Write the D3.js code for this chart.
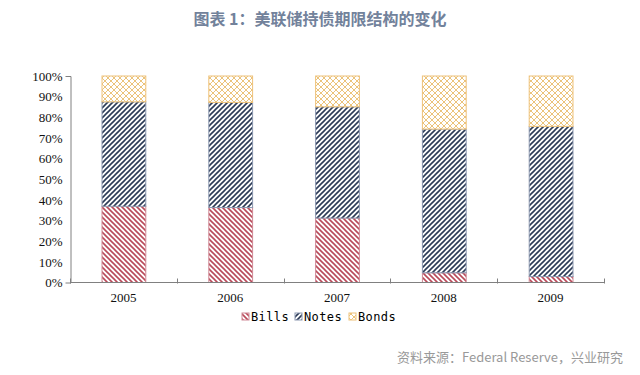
<!DOCTYPE html>
<html>
<head>
<meta charset="utf-8">
<script src="https://cdn.jsdelivr.net/npm/d3@7/dist/d3.min.js"></script>
<style>
  body { margin: 0; background: #fff; }
  svg { display: block; }
</style>
</head>
<body>
<div id="chart"></div>
<script>
const years = ["2005", "2006", "2007", "2008", "2009"];
const bills = [36.9, 36.3, 31.2, 4.7, 2.9];
const notes = [50.6, 50.9, 53.9, 69.6, 72.7];
const bonds = [12.5, 12.8, 14.9, 25.7, 24.4];
const seriesNames = ["Bills", "Notes", "Bonds"];
const yTicks = [0, 10, 20, 30, 40, 50, 60, 70, 80, 90, 100];

const width = 640, height = 375;
const margin = { top: 76, right: 36, bottom: 93, left: 70 };

const svg = d3.select("#chart").append("svg")
  .attr("width", width)
  .attr("height", height);

// patterns
const defs = svg.append("defs");
const pats = [
  { id: "p-bills", color: "#b94a5a", dir: "\\" },
  { id: "p-notes", color: "#2c3b57", dir: "/" },
];
pats.forEach(p => {
  const pat = defs.append("pattern")
    .attr("id", p.id)
    .attr("patternUnits", "userSpaceOnUse")
    .attr("width", 5).attr("height", 5);
  pat.append("rect").attr("width", 5).attr("height", 5).attr("fill", "#fff");
  const d = p.dir === "/"
    ? "M-1,1 l2,-2 M0,5 l5,-5 M4,6 l2,-2"
    : "M-1,4 l2,2 M0,0 l5,5 M4,-1 l2,2";
  pat.append("path").attr("d", d).attr("stroke", p.color).attr("stroke-width", 1.6);
});
const bp = defs.append("pattern")
  .attr("id", "p-bonds")
  .attr("patternUnits", "userSpaceOnUse")
  .attr("width", 6).attr("height", 6);
bp.append("rect").attr("width", 6).attr("height", 6).attr("fill", "#fff");
bp.append("path").attr("d", "M0,0 L6,6 M6,0 L0,6")
  .attr("stroke", "#ebc37a").attr("stroke-width", 1);

const fills = ["url(#p-bills)", "url(#p-notes)", "url(#p-bonds)"];
const borders = ["#d08a97", "#8c98b0", "#eec27a"];

// title
svg.append("text")
  .attr("x", 320).attr("y", 25)
  .attr("text-anchor", "middle")
  .attr("font-family", "'Noto Sans CJK SC', sans-serif")
  .attr("font-weight", "bold")
  .attr("font-size", 16)
  .attr("fill", "#72829b")
  .text("图表 1：美联储持债期限结构的变化");

// scales
const x = d3.scaleBand()
  .domain(years)
  .range([margin.left, width - margin.right])
  .paddingInner(0.59)
  .paddingOuter(0.295);

const y = d3.scaleLinear()
  .domain([0, 100])
  .range([height - margin.bottom + 0.5, margin.top]);

// stacked data
const rows = years.map((yr, i) => ({ year: yr, Bills: bills[i], Notes: notes[i], Bonds: bonds[i] }));
const stack = d3.stack().keys(seriesNames)(rows);

const g = svg.append("g");
stack.forEach((layer, k) => {
  g.selectAll(".bar-" + k)
    .data(layer)
    .enter().append("rect")
    .attr("x", d => x(d.data.year) + 0.5)
    .attr("y", d => y(d[1]))
    .attr("width", x.bandwidth())
    .attr("height", d => y(d[0]) - y(d[1]))
    .attr("fill", fills[k])
    .attr("stroke", borders[k])
    .attr("stroke-width", 1);
});

// y axis
const yAxis = d3.axisLeft(y)
  .tickValues(yTicks)
  .tickSize(5)
  .tickFormat(d => d + "%");
const yg = svg.append("g")
  .attr("transform", "translate(" + (margin.left + 0.5) + ",0)")
  .call(yAxis);
yg.select(".domain").attr("stroke", "#808080");
yg.selectAll(".tick line").attr("stroke", "#808080").attr("x2", 0);
yg.selectAll(".tick text")
  .attr("font-family", "'Liberation Serif', serif")
  .attr("font-size", 13)
  .attr("fill", "#111")
  .attr("x", -8);

// x axis
const xAxis = d3.axisBottom(x).tickSize(0);
const xg = svg.append("g")
  .attr("transform", "translate(0," + (height - margin.bottom + 0.5) + ")")
  .call(xAxis);
xg.select(".domain").attr("stroke", "#808080")
  .attr("d", "M" + margin.left + ",0H" + (width - margin.right));
xg.selectAll(".tick text")
  .attr("font-family", "'Liberation Serif', serif")
  .attr("font-size", 13)
  .attr("fill", "#111")
  .attr("dy", "1.3em");
// category boundary ticks
const bounds = d3.range(years.length + 1).map(i => margin.left + i * x.step());
xg.selectAll(".btick")
  .data(bounds)
  .enter().append("line")
  .attr("x1", d => Math.round(d) + 0.5).attr("x2", d => Math.round(d) + 0.5)
  .attr("y1", -4).attr("y2", 1)
  .attr("stroke", "#808080");

// legend
const legendX = [242, 295, 349];
const lg = svg.append("g").attr("transform", "translate(0,317)");
seriesNames.forEach((s, k) => {
  lg.append("rect")
    .attr("x", legendX[k]).attr("y", -4)
    .attr("width", 7).attr("height", 7)
    .attr("fill", fills[k])
    .attr("stroke", borders[k]);
  lg.append("text")
    .attr("x", legendX[k] + 9).attr("y", 4)
    .attr("font-family", "'DejaVu Sans Mono', monospace")
    .attr("font-size", 12)
    .attr("letter-spacing", 0.4)
    .attr("fill", "#000")
    .text(s);
});

// source
svg.append("text")
  .attr("x", 623).attr("y", 362)
  .attr("text-anchor", "end")
  .attr("font-family", "'Noto Sans CJK SC', sans-serif")
  .attr("font-size", 13)
  .attr("fill", "#999")
  .text("资料来源：Federal Reserve，兴业研究");
</script>
</body>
</html>
